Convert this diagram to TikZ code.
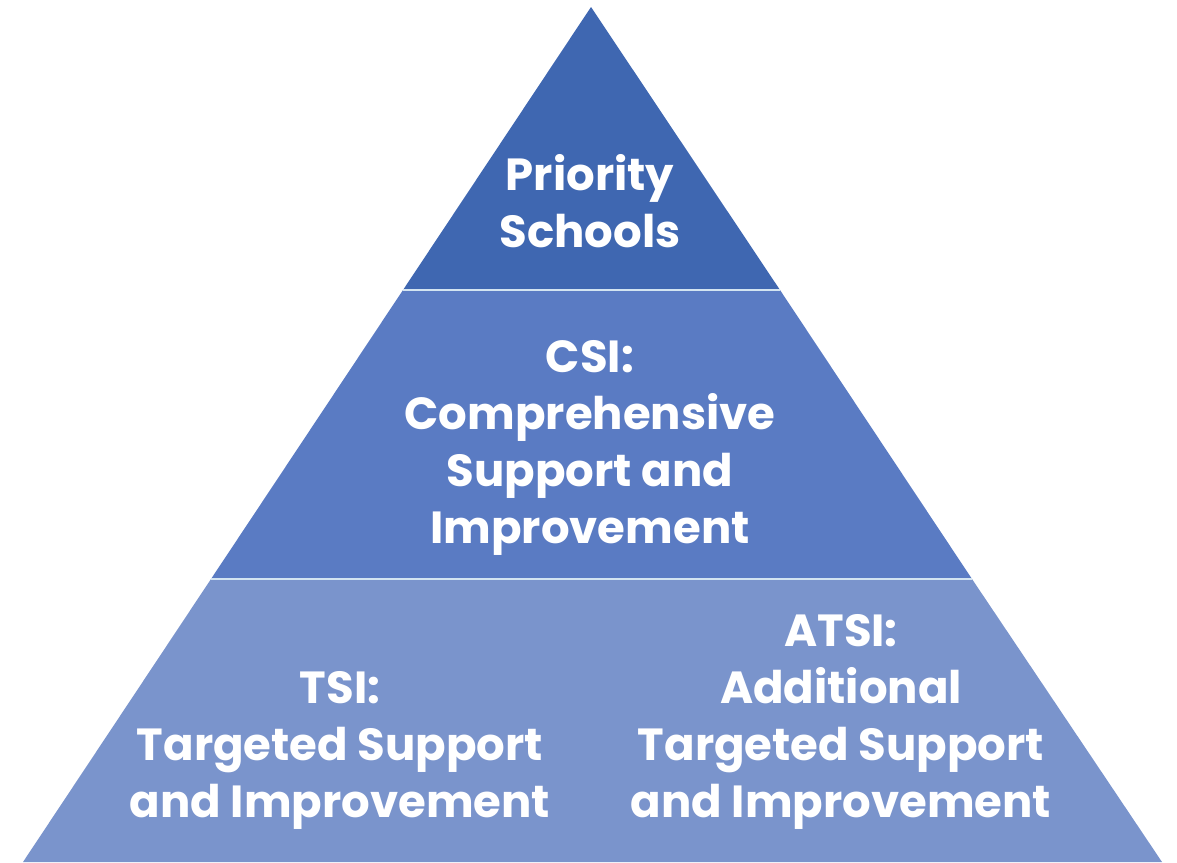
\documentclass[tikz,border=0pt]{standalone}
\usepackage{fontspec}
\setmainfont{Poppins}
\definecolor{tierA}{HTML}{3F67B1}
\definecolor{tierB}{HTML}{5A7BC3}
\definecolor{tierC}{HTML}{7A94CC}
\definecolor{seam}{HTML}{D3E4F1}
\begin{document}
\begin{tikzpicture}[x=1pt,y=-1pt,line join=round,
    tierlabel/.style={text=white,align=center,anchor=base,inner sep=0pt,
      font=\fontsize{45}{57}\selectfont\bfseries}]
\useasboundingbox (0,0) rectangle (1177,862);
% corners of the pyramid
\coordinate (apex) at (591,7);
\coordinate (l1) at (403,290); \coordinate (r1) at (780,290);
\coordinate (l2) at (211,579); \coordinate (r2) at (972,579);
\coordinate (l3) at (23,862);  \coordinate (r3) at (1162,862);
\fill[tierA] (apex)--(r1)--(l1)--cycle;
\fill[tierB] (l1)--(r1)--(r2)--(l2)--cycle;
\fill[tierC] (l2)--(r2)--(r3)--(l3)--cycle;
\draw[seam,line width=2.5pt] (l1)--(r1) (l2)--(r2);
% labels (base = last line)
\node[tierlabel] (priority) at (590,247) {Priority\\Schools};
\node[tierlabel] (csi) at (590,543) {CSI:\\Comprehensive\\Support and\\Improvement};
\node[tierlabel] (tsi) at (340,817) {TSI:\\Targeted Support\\and Improvement};
\node[tierlabel] (atsi) at (841,817) {ATSI:\\Additional\\Targeted Support\\and Improvement};
\end{tikzpicture}
\end{document}
